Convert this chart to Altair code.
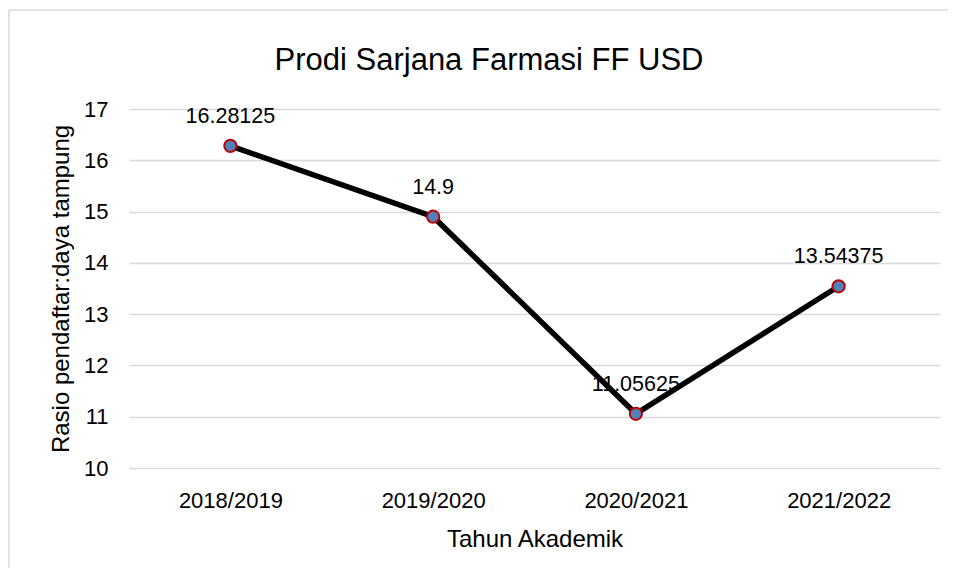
import altair as alt
import pandas as pd

years = ["2018/2019", "2019/2020", "2020/2021", "2021/2022"]
ratios = [16.28125, 14.9, 11.05625, 13.54375]
labels = ["16.28125", "14.9", "11.05625", "13.54375"]

df = pd.DataFrame({"year": years, "ratio": ratios, "label": labels})

FONT = "Liberation Sans"

x = alt.X("year:N", sort=years, title="Tahun Akademik",
          scale=alt.Scale(paddingInner=0, paddingOuter=0),
          axis=alt.Axis(labelAngle=0, labelFontSize=22, labelColor="#000000",
                        labelPadding=22, titleFontSize=24, titleFontWeight="normal",
                        titleColor="#000000", titlePadding=16, ticks=False, domain=False,
                        grid=False, labelFont=FONT, titleFont=FONT))
y = alt.Y("ratio:Q", title="Rasio pendaftar:daya tampung",
          scale=alt.Scale(domain=[10, 17], nice=False, zero=False),
          axis=alt.Axis(values=[10, 11, 12, 13, 14, 15, 16, 17], labelFontSize=22,
                        labelColor="#000000", labelPadding=21, titleFontSize=24,
                        titleFontWeight="normal", titleColor="#000000", titlePadding=10,
                        ticks=False, domain=False, gridColor="#d9d9d9", gridWidth=1.5,
                        labelFont=FONT, titleFont=FONT))

base = alt.Chart(df)
one = base.transform_filter(alt.datum.year == "2018/2019")

border_left = one.mark_rule(color="#d9d9d9", strokeWidth=1.5).encode(
    x=alt.value(-120), y=alt.value(-99), y2=alt.value(465))
border_top = one.mark_rule(color="#d9d9d9", strokeWidth=1.5).encode(
    x=alt.value(-120), x2=alt.value(819), y=alt.value(-99))

line = base.mark_line(color="#000000", strokeWidth=5.5).encode(x=x, y=y)
pts = base.mark_point(filled=True, fill="#4f81bd", stroke="#c00000", strokeWidth=2,
                      size=150, opacity=1, fillOpacity=1, shape="circle").encode(x=x, y=y)
txt = base.mark_text(dy=-29, fontSize=21.5, font=FONT, color="#000000").encode(
    x=x, y=y, text="label:N")

title = alt.Chart(pd.DataFrame({"t": ["Prodi Sarjana Farmasi FF USD"]})).mark_text(
    fontSize=31, font=FONT, color="#000000", baseline="alphabetic", align="center"
).encode(x=alt.value(360), y=alt.value(-39), text="t:N")

chart = alt.layer(border_left, border_top, line, pts, txt, title).properties(
    width=811, height=359,
    background="#ffffff",
    autosize=alt.AutoSizeParams(type="none"),
    padding={"left": 121, "top": 101, "right": 8, "bottom": 100},
).configure_view(stroke=None)

chart.save("out.html", embed_options={"renderer": "svg", "actions": False})
